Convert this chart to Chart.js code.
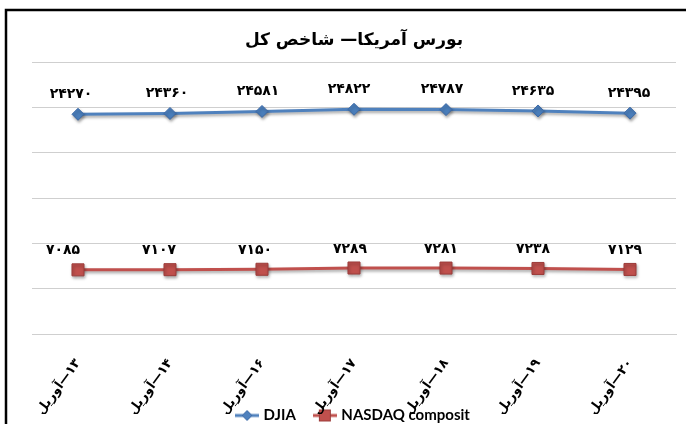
<!DOCTYPE html>
<html><head><meta charset="utf-8">
<script src="https://cdn.jsdelivr.net/npm/chart.js@4"></script>
<style>html,body{margin:0;padding:0;background:#fff;overflow:hidden}#wrap{width:686px;height:424px;position:relative}</style>
</head><body><div id="wrap"><canvas id="c" width="686" height="424"></canvas></div>
<script>
// ---- data ----
const categories = ['۱۳—آوریل','۱۴—آوریل','۱۶—آوریل','۱۷—آوریل','۱۸—آوریل','۱۹—آوریل','۲۰—آوریل'];
const djia = [24270, 24360, 24581, 24822, 24787, 24635, 24395];
const nasdaq = [7085, 7107, 7150, 7289, 7281, 7238, 7129];
const seriesNames = ['DJIA', 'NASDAQ composit'];
const chartTitle = 'بورس آمریکا— شاخص کل';
const yTicks = {min: 0, max: 30000, step: 5000};

const toPersian = v => String(v).replace(/\d/g, d => '۰۱۲۳۴۵۶۷۸۹'[d]);

function legendIcon(color, border, style) {
  const c = document.createElement('canvas');
  c.width = 24; c.height = 14;
  const g = c.getContext('2d');
  g.strokeStyle = color; g.lineWidth = 3;
  g.beginPath(); g.moveTo(0, 7); g.lineTo(24, 7); g.stroke();
  g.fillStyle = color; g.strokeStyle = border; g.lineWidth = 1;
  if (style === 'diamond') {
    g.beginPath(); g.moveTo(12, 2); g.lineTo(17, 7); g.lineTo(12, 12); g.lineTo(7, 7); g.closePath(); g.fill(); g.stroke();
  } else {
    g.fillRect(6.5, 1.5, 11, 11); g.strokeRect(6.5, 1.5, 11, 11);
  }
  return c;
}

const frameAndLabels = {
  id: 'frameAndLabels',
  afterLayout(chart, args, opts) {
    const lg = chart.legend;
    if (lg) { lg.top -= opts.legendLift; lg.bottom -= opts.legendLift; }
  },
  beforeDraw(chart) {
    const ctx = chart.ctx;
    ctx.save();
    ctx.fillStyle = '#fff';
    ctx.fillRect(0, 0, chart.width, chart.height);
    ctx.strokeStyle = '#000'; ctx.lineWidth = 2.5;
    ctx.beginPath();
    ctx.moveTo(6, chart.height + 5); ctx.lineTo(6, 10); ctx.lineTo(chart.width + 5, 10);
    ctx.stroke();
    ctx.restore();
  },
  beforeDatasetsDraw(chart) {
    const ctx = chart.ctx;
    ctx.save();
    ctx.shadowColor = 'rgba(0,0,0,0.35)';
    ctx.shadowBlur = 3; ctx.shadowOffsetX = 1; ctx.shadowOffsetY = 2;
  },
  afterDatasetsDraw(chart, args, opts) {
    const ctx = chart.ctx;
    ctx.restore();
    ctx.save();
    ctx.font = 'bold 14px "DejaVu Sans"';
    ctx.fillStyle = '#000';
    ctx.textAlign = 'center';
    ctx.textBaseline = 'middle';
    chart.data.datasets.forEach((ds, i) => {
      const meta = chart.getDatasetMeta(i);
      const shift = opts.shiftX[i] || [];
      meta.data.forEach((pt, j) => {
        ctx.fillText(toPersian(ds.data[j]), pt.x + (shift[j] || 0), pt.y - opts.offsetY[i]);
      });
    });
    ctx.restore();
  }
};

new Chart(document.getElementById('c'), {
  type: 'line',
  data: {
    labels: categories,
    datasets: [
      {label: seriesNames[0], data: djia, borderColor: '#4f81bd', backgroundColor: '#4a7ebb',
       borderWidth: 3, pointStyle: 'rectRot', pointRadius: 6, pointBorderColor: '#3c6aa8', pointBorderWidth: 1,
       tension: 0},
      {label: seriesNames[1], data: nasdaq, borderColor: '#c0504d', backgroundColor: '#c0504d',
       borderWidth: 3, pointStyle: 'rect', pointRadius: 8.5, pointBorderColor: '#9c3c3a', pointBorderWidth: 1,
       tension: 0}
    ]
  },
  options: {
    responsive: false,
    animation: false,
    layout: {padding: {left: 32, right: 10, top: 0, bottom: -35}},
    scales: {
      x: {
        offset: true,
        grid: {display: false},
        border: {display: true, color: '#cfcfcf'},
        ticks: {
          autoSkip: false, minRotation: 54, maxRotation: 54, color: '#000', padding: 14,
          font: {family: 'DejaVu Sans', size: 13, weight: 'bold'},
          callback: function (v, i) { return '\u200F' + categories[i]; }
        },
        afterFit: s => { s.height = 80; }
      },
      y: {
        min: yTicks.min, max: yTicks.max,
        ticks: {display: false, stepSize: yTicks.step},
        grid: {color: '#cfcfcf', drawTicks: false},
        border: {display: false}
      }
    },
    plugins: {
      title: {display: true, text: chartTitle, color: '#000',
        font: {family: 'DejaVu Sans', size: 17, weight: 'bold'}, padding: {top: 30, bottom: 12}},
      legend: {
        position: 'bottom',
        labels: {
          usePointStyle: true, pointStyleWidth: 18, boxHeight: 14, padding: 20, color: '#000',
          font: {family: 'Lato', size: 15, weight: 'bold'},
          generateLabels: chart => chart.data.datasets.map((ds, i) => ({
            text: ds.label, datasetIndex: i, hidden: false, lineWidth: 0,
            pointStyle: legendIcon(ds.borderColor, ds.pointBorderColor, i === 0 ? 'diamond' : 'square'),
            fillStyle: ds.borderColor, strokeStyle: ds.borderColor, fontColor: '#000'
          }))
        }
      },
      tooltip: {enabled: false},
      frameAndLabels: {legendLift: 26, offsetY: [20, 19], shiftX: [[-7, -3, -4, -5, -4, -5, -1], [-15, -11, -7, -4, -5, -5, -5]]}
    }
  },
  plugins: [frameAndLabels]
});
</script>
</body></html>
